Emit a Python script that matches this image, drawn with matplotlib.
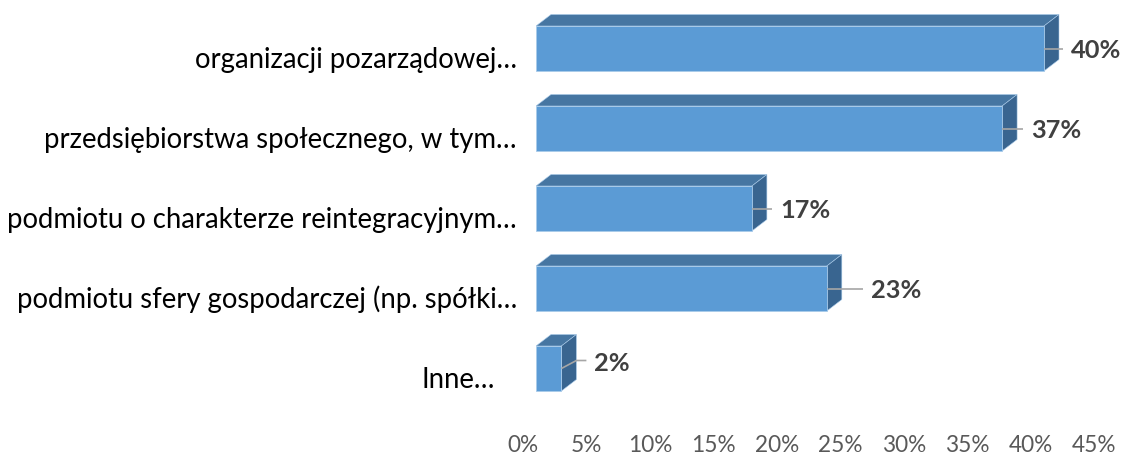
import matplotlib
matplotlib.use("Agg")
import matplotlib.pyplot as plt
from matplotlib.patches import Polygon
from matplotlib.transforms import offset_copy

# ---- data ----
categories = [
    "organizacji pozarządowej…",
    "przedsiębiorstwa społecznego, w tym…",
    "podmiotu o charakterze reintegracyjnym…",
    "podmiotu sfery gospodarczej (np. spółki…",
    "Inne…",
]
values = [40.0, 36.7, 17.0, 22.9, 2.0]
xticks = [0, 5, 10, 15, 20, 25, 30, 35, 40, 45]
xtick_labels = ["0%", "5%", "10%", "15%", "20%", "25%", "30%", "35%", "40%", "45%"]

# ---- style / layout ----
W, H = 1123, 455
DPI = 100
px_per_pct = 12.7
row_px = 80
x0_px = 536
top_px = 8.5
front_col = "#5B9BD5"
top_col = "#4676A2"
side_col = "#396590"
edge_col = "#A9CBEA"
depth_x_px = 15
depth_y_px = 11.5
bar_h = 45 / row_px
leader_px = [19, 21, 20, 36, 0]
cat_gap_px = [19, 19, 19, 19, 41]
font = "Lato"

fig = plt.figure(figsize=(W / DPI, H / DPI), dpi=DPI)
xmax = xticks[-1]
ax_w = xmax * px_per_pct
ax_h = len(categories) * row_px
ax = fig.add_axes([x0_px / W, (H - top_px - ax_h) / H, ax_w / W, ax_h / H])
ax.set_xlim(0, xmax)
ax.set_ylim(len(categories) - 0.5, -0.5)
ax.axis("off")

ddx = depth_x_px / px_per_pct
ddy = depth_y_px / row_px

for i, v in enumerate(values):
    top = i - bar_h / 2
    bot = i + bar_h / 2
    top_face = Polygon([(0, top), (v, top), (v + ddx, top - ddy), (ddx, top - ddy)],
                       closed=True, facecolor=top_col, edgecolor=edge_col, lw=0.4, zorder=2)
    side_face = Polygon([(v, top), (v, bot), (v + ddx, bot - ddy), (v + ddx, top - ddy)],
                        closed=True, facecolor=side_col, edgecolor=edge_col, lw=0.4, zorder=2)
    front = Polygon([(0, top), (v, top), (v, bot), (0, bot)],
                    closed=True, facecolor=front_col, edgecolor=edge_col, lw=0.6, zorder=3)
    ax.add_patch(top_face)
    ax.add_patch(side_face)
    ax.add_patch(front)

    # leader line + value label
    label = f"{v:.0f}%"
    if leader_px[i] > 0:
        xe = v + leader_px[i] / px_per_pct
        ax.plot([v, xe], [i, i], color="#A6A6A6", lw=1.2, zorder=4, solid_capstyle="butt")
        ty = i
        tdy = -2
    else:
        ky = i - 8 / row_px
        xe = v + ddx + 10 / px_per_pct
        ax.plot([v, v + ddx, xe], [i, ky, ky], color="#A6A6A6", lw=1.2, zorder=4,
                solid_capstyle="butt")
        ty = ky
        tdy = -3
    tr = offset_copy(ax.transData, fig=fig, x=8, y=tdy, units="dots")
    ax.text(xe, ty, label, transform=tr, ha="left", va="center", fontsize=18.3,
            fontweight="bold", color="#404040", family=font, clip_on=False)

    # category label
    trc = offset_copy(ax.transData, fig=fig, x=-cat_gap_px[i], y=-19.5, units="dots")
    ax.text(0, i, categories[i], transform=trc, ha="right", va="baseline", fontsize=19.8,
            color="#000000", family=font, clip_on=False)

# x tick labels (on the floor, shifted left by depth)
trx = offset_copy(ax.get_xaxis_transform(), fig=fig, x=-13, y=-(445 - (top_px + ax_h)),
                  units="dots")
for t, lab in zip(xticks, xtick_labels):
    ax.text(t, 0, lab, transform=trx, ha="center", va="center", fontsize=16.3,
            color="#595959", family=font, clip_on=False)

fig.savefig("out.png", dpi=DPI)
